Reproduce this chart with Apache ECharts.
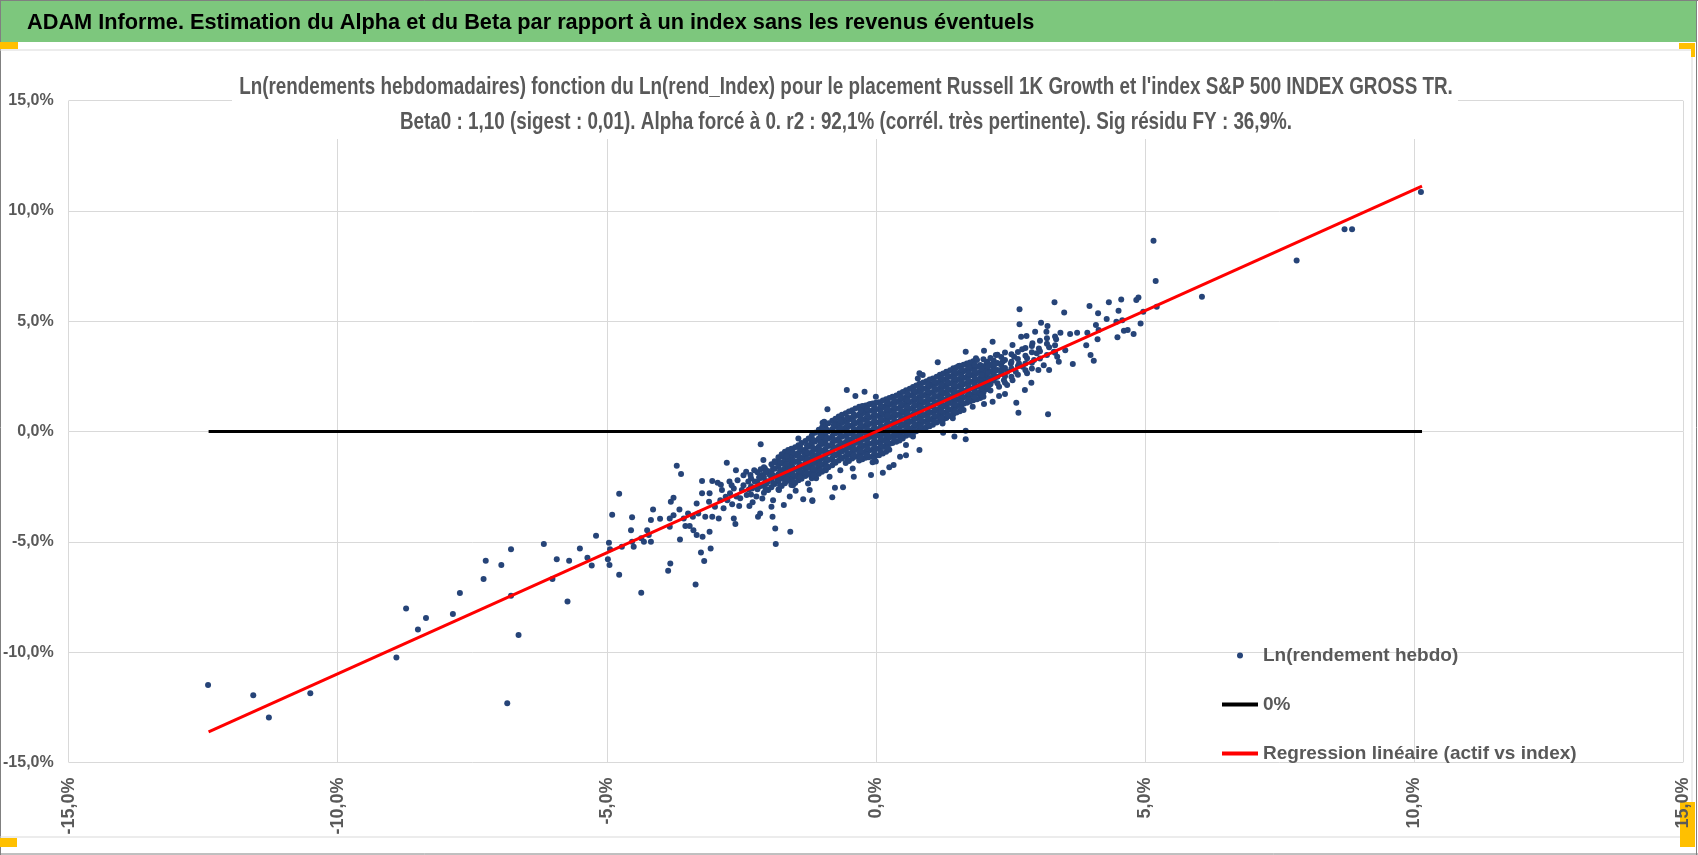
<!DOCTYPE html>
<html>
<head>
<meta charset="utf-8">
<script src="https://cdn.jsdelivr.net/npm/echarts@6/dist/echarts.min.js"></script>
<style>
html,body{margin:0;padding:0;background:#fff;}
#chart{width:1698px;height:855px;}
</style>
</head>
<body>
<div id="chart"></div>
<script>
// ---- Data (percent units) ----
var headerTitle = "ADAM Informe. Estimation du Alpha et du Beta par rapport à un index sans les revenus éventuels";
var chartTitleLines = [
  "Ln(rendements hebdomadaires) fonction du Ln(rend_Index) pour le placement Russell 1K Growth et l'index S&P 500 INDEX GROSS TR.",
  "Beta0 : 1,10 (sigest : 0,01). Alpha forcé à 0. r2 : 92,1% (corrél. très pertinente). Sig résidu FY : 36,9%."
];
var seriesNames = ["Ln(rendement hebdo)", "0%", "Regression linéaire (actif vs index)"];
var axisTicks = [-15, -10, -5, 0, 5, 10, 15];

// left tail points [index %, asset %]
var leftTail = [
  [-12.41,-11.49],[-11.57,-11.95],[-11.28,-12.96],[-10.51,-11.87],[-8.91,-10.24],
  [-8.73,-8.02],[-8.51,-8.97],[-8.36,-8.45],[-7.86,-8.27],[-7.73,-7.32],
  [-7.29,-6.69],[-7.25,-5.86],[-6.96,-6.05],[-6.78,-5.34],[-6.78,-7.44],
  [-6.64,-9.22],[-6.85,-12.32],[-6.17,-5.10],[-6.01,-6.69],[-5.93,-5.79],
  [-5.70,-5.86],[-5.73,-7.70],[-5.50,-5.30],[-5.36,-5.72],[-5.28,-6.07],[-5.20,-4.72]
];
// lower-middle points
var lowerMid = [
  [-4.96,-5.04],[-4.94,-5.34],[-4.98,-5.79],[-4.95,-6.05],[-4.77,-6.49],[-4.90,-3.77],
  [-4.77,-2.82],[-4.72,-5.22],[-4.55,-4.47],[-4.53,-3.89],[-4.53,-5.00],[-4.50,-5.22],
  [-4.36,-7.31],[-4.36,-4.84],[-4.31,-5.00],[-4.25,-4.47],[-4.18,-5.00],[-4.18,-4.01],
  [-4.14,-3.53],[-4.22,-4.69],[-4.01,-3.95],[-3.86,-6.31],[-3.82,-5.98],[-3.83,-4.32],
  [-3.83,-3.94],[-3.81,-3.18],[-3.76,-3.00],[-3.76,-3.79],[-3.70,-1.55],[-3.62,-1.93],
  [-3.65,-3.53],[-3.64,-4.89],[-3.57,-3.94],[-3.54,-4.28],[-3.49,-3.71],[-3.46,-4.28],
  [-3.40,-3.86],[-3.39,-4.47],[-3.35,-6.94],[-3.33,-3.26],[-3.33,-4.69],[-3.30,-3.71],
  [-3.25,-5.48],[-3.23,-2.24],[-3.23,-2.80],[-3.22,-4.77],[-3.19,-5.87],[-3.17,-3.86],
  [-3.10,-3.18],[-3.09,-4.54],[-3.09,-2.80],[-3.07,-5.30],[-3.04,-2.24],[-3.04,-3.86],
  [-2.99,-3.41],[-2.94,-2.32],[-2.92,-3.94],[-2.89,-3.11],[-2.86,-2.65],[-2.83,-3.48],
  [-2.77,-1.41],[-2.76,-3.11],[-2.72,-2.27],[-2.71,-2.80],[-2.67,-3.30],[-2.64,-3.94],
  [-2.61,-4.19],[-2.60,-1.75],[-2.64,-2.58],[-2.59,-2.95],[-2.54,-3.38],[-2.49,-2.65],
  [-2.41,-1.82],[-2.40,-2.88],[-2.37,-2.27],[-2.33,-1.97],[-2.30,-2.58],[-2.26,-1.75],
  [-2.25,-2.27],[-2.22,-2.95],[-2.19,-3.86],[-2.15,-3.71],[-2.14,-0.58],[-2.12,-1.97],
  [-2.11,-3.03],[-2.09,-1.29],[-2.06,-1.67],[-2.03,-2.35],[-2.00,-2.65],[-1.97,-1.97],
  [-1.94,-3.41],[-1.92,-3.86],[-1.91,-3.11],[-1.87,-4.39],[-1.86,-5.10],[-1.85,-1.41],
  [-1.83,-2.20],[-1.80,-2.65],[-1.75,-1.75],[-1.72,-1.14],[-1.71,-3.33],[-1.69,-2.20],
  [-1.66,-1.52],[-1.63,-0.84],[-1.60,-2.95],[-1.59,-4.54],[-1.57,-1.82],[-1.54,-2.43],
  [-1.49,-2.68],[-1.48,-1.07],[-1.44,-0.31],[-1.41,-0.69],[-1.40,-1.97],[-1.35,-3.07],
  [-1.35,-1.60],[-1.32,-0.99],[-1.29,-1.29],[-1.26,-2.35],[-1.23,-2.65],[-1.20,-0.51],
  [-1.18,-3.11],[-1.17,-1.75],[-1.14,-1.07],[-1.11,-2.12],[-1.07,-0.76],[-1.04,-1.44],
  [-0.99,0.40],[-1.01,-0.39],[-1.63,-1.75],[-1.44,-2.20],[-1.07,-1.60],[-1.18,-3.15],
  [-2.88,-2.41],[-2.79,-2.96],[-2.68,-2.44],[-2.57,-2.21],[-2.52,-3.02],[-2.46,-2.43],
  [-2.36,-2.63],[-2.29,-3.21],[-2.46,-1.98],[-2.35,-3.37]
];
// scattered points around the dense centre
var centreEdge = [
  [1.15,3.14],[1.54,2.97],[1.31,2.71],[0.81,2.64],[0.87,2.56],[-0.54,1.88],[-0.38,1.61],
  [-0.21,1.80],[0.00,1.58],[-0.90,1.01],[-0.96,0.44],[-0.73,0.37],[-0.62,0.55],[-0.46,0.60],
  [-0.24,0.97],[-0.10,1.25],[0.12,1.12],[0.38,1.35],[0.53,1.46],[0.69,1.88],[0.78,2.41],
  [0.99,2.18],[1.24,2.11],[1.46,1.73],[1.58,1.12],[1.43,0.60],[1.24,0.37],[1.25,-0.05],
  [1.46,-0.23],[0.81,-0.84],[0.69,-0.23],[0.56,-0.61],[0.45,-0.23],[0.56,-1.07],[0.45,-1.14],
  [0.33,-1.52],[0.25,-1.62],[0.13,-1.87],[-0.09,-1.97],[0.00,-2.92],[-0.41,-2.05],[-0.43,-1.67],
  [-0.61,-2.53],[-0.76,-2.55],[-0.81,-2.98],[-0.86,-2.05],[-0.93,-1.75],[-0.66,-1.75]
];
// upper-middle points
var upperMid = [
  [3.32,5.86],[2.67,5.54],[3.50,5.40],[3.97,5.69],[4.33,5.86],[4.56,5.99],[4.84,5.96],
  [4.88,6.08],[4.13,5.36],[4.51,5.48],[4.29,5.10],[4.47,4.98],[4.58,5.05],[4.97,5.43],
  [4.92,4.90],[4.61,4.57],[4.68,4.60],[4.79,4.42],[4.49,4.27],[4.09,4.83],[4.14,4.60],
  [4.12,4.18],[3.93,4.48],[3.91,3.91],[3.99,3.47],[4.05,3.21],[3.74,4.48],[3.61,4.42],
  [3.66,3.06],[3.52,3.69],[3.43,4.48],[3.35,4.18],[3.19,4.78],[3.17,4.52],[3.07,4.93],
  [2.96,4.52],[2.67,4.87],[2.70,4.30],[2.80,4.33],[3.20,0.79],[2.65,0.85],[2.61,1.31],
  [2.77,1.88],[2.89,2.21],[2.40,1.70],[2.29,1.61],[2.17,1.35],[2.01,1.25],[1.67,0.04],
  [1.67,-0.35],[1.67,3.62],[1.86,3.32],[2.01,3.66],[2.17,4.07],[2.23,3.47],[2.54,3.92],
  [2.72,3.73],[2.91,4.00],[3.03,3.77],[3.22,3.82],[3.31,3.62],[3.37,3.39],[3.40,3.16],
  [3.22,2.79],[3.12,3.01],[3.02,2.79],[2.94,3.24],[2.81,2.64],[2.73,2.94],[2.60,2.71],
  [2.44,2.71],[2.44,2.11],[2.38,2.33],[2.29,2.03],[2.17,2.33],[2.07,3.16],[1.98,2.64],
  [1.86,2.33],[1.80,2.94],[1.73,2.56],[1.89,1.73],[2.01,2.03],[1.80,1.12],[2.57,3.39],
  [2.81,3.32],[2.99,3.55],[2.66,3.09],[2.51,3.09],[2.54,2.33]
];
// right tail points
var rightTail = [
  [10.13,10.86],[8.71,9.17],[8.85,9.17],[7.82,7.76],[6.06,6.11],[5.16,8.65],[5.20,6.82],[5.22,5.66]
];
// dense core, read column by column: [index %, [asset % values]]
var coreColumnsA = [
  [-2.20,[-1.85,-2.30,-2.62]],
  [-2.08,[-1.62,-2.05,-2.43,-2.78]],
  [-1.94,[-1.48,-1.83,-2.14,-2.52]],
  [-1.81,[-1.17,-1.58,-1.92,-2.25,-2.63]],
  [-1.69,[-0.92,-1.31,-1.64,-1.97,-2.34]],
  [-1.57,[-0.78,-1.12,-1.46,-1.81,-2.09,-2.42]],
  [-1.44,[-0.62,-0.97,-1.32,-1.63,-1.94,-2.21]],
  [-1.31,[-0.43,-0.81,-1.09,-1.42,-1.73,-2.02]],
  [-1.19,[-0.18,-0.57,-0.93,-1.21,-1.52,-1.84,-2.12]],
  [-1.06,[0.08,-0.32,-0.68,-0.99,-1.33,-1.61,-1.91]],
  [-0.94,[0.27,-0.12,-0.43,-0.79,-1.08,-1.41,-1.72]],
  [-0.81,[0.49,0.11,-0.21,-0.52,-0.87,-1.19,-1.53]],
  [-0.69,[0.68,0.31,0.02,-0.33,-0.66,-0.98,-1.31]],
  [-0.56,[0.83,0.47,0.18,-0.17,-0.49,-0.82,-1.12,-1.43]],
  [-0.44,[0.97,0.62,0.29,-0.03,-0.34,-0.61,-0.93,-1.22]],
  [-0.31,[1.12,0.78,0.47,0.16,-0.12,-0.42,-0.73,-1.02,-1.31]],
  [-0.19,[1.18,0.88,0.58,0.27,-0.02,-0.31,-0.62,-0.91,-1.19]],
  [-0.06,[1.27,0.97,0.68,0.39,0.08,-0.21,-0.52,-0.81,-1.12,-1.39]],
  [0.06,[1.33,1.02,0.71,0.42,0.12,-0.17,-0.48,-0.77,-1.08]],
  [0.19,[1.47,1.18,0.87,0.59,0.28,-0.03,-0.32,-0.61,-0.92]],
  [0.31,[1.58,1.27,0.98,0.69,0.37,0.09,-0.21,-0.52]],
  [0.44,[1.72,1.41,1.08,0.79,0.48,0.18,-0.12,-0.41]],
  [0.56,[1.87,1.57,1.28,0.97,0.68,0.39,0.08,-0.19]],
  [0.69,[2.02,1.69,1.38,1.09,0.78,0.49,0.18,-0.08]],
  [0.81,[2.17,1.88,1.57,1.27,0.98,0.67,0.38,0.09]],
  [0.94,[2.28,1.98,1.69,1.38,1.08,0.79,0.48,0.19]],
  [1.06,[2.41,2.12,1.79,1.49,1.18,0.88,0.59,0.31]],
  [1.19,[2.57,2.27,1.98,1.67,1.38,1.07,0.78,0.49]],
  [1.31,[2.68,2.39,2.08,1.79,1.48,1.19,0.88,0.61]],
  [1.44,[2.87,2.58,2.27,1.98,1.69,1.38,1.09,0.79]],
  [1.56,[2.98,2.68,2.39,2.09,1.78,1.49,1.21,0.92]],
  [1.69,[3.08,2.79,2.48,2.19,1.88,1.59,1.31]],
  [1.81,[3.19,2.88,2.59,2.28,1.98,1.69,1.42]],
  [1.94,[3.02,2.71,2.42,2.12,1.81,1.52]],
  [2.06,[3.11,2.82,2.49,2.21,1.92]],
  [2.19,[3.22,2.91,2.61,2.31]],
  [2.33,[3.38,3.01,2.64]]
];
var coreColumnsB = [
  [-2.32,[-2.12,-2.48,-2.85]],
  [-2.14,[-1.71,-2.11,-2.47]],
  [-2.01,[-1.79,-2.26,-2.63]],
  [-1.88,[-1.35,-1.69,-2.04,-2.38]],
  [-1.75,[-1.03,-1.44,-1.79,-2.12,-2.47]],
  [-1.63,[-0.95,-1.27,-1.62,-1.95,-2.23]],
  [-1.50,[-0.71,-1.04,-1.38,-1.72,-2.03,-2.33]],
  [-1.38,[-0.52,-0.88,-1.21,-1.55,-1.86,-2.14]],
  [-1.25,[-0.31,-0.69,-1.02,-1.33,-1.64,-1.95]],
  [-1.13,[-0.06,-0.45,-0.81,-1.12,-1.43,-1.76,-2.01]],
  [-1.00,[0.18,-0.21,-0.57,-0.88,-1.21,-1.52,-1.82]],
  [-0.88,[0.38,0.01,-0.32,-0.66,-0.97,-1.29,-1.62]],
  [-0.75,[0.58,0.22,-0.08,-0.42,-0.76,-1.08,-1.41]],
  [-0.63,[0.76,0.39,0.09,-0.24,-0.57,-0.90,-1.22]],
  [-0.50,[0.91,0.55,0.24,-0.09,-0.41,-0.72,-1.03,-1.33]],
  [-0.38,[1.04,0.71,0.38,0.07,-0.23,-0.52,-0.84,-1.14]],
  [-0.25,[1.16,0.83,0.52,0.21,-0.07,-0.37,-0.67,-0.97,-1.26]],
  [-0.13,[1.23,0.93,0.63,0.33,0.03,-0.26,-0.57,-0.86,-1.16]],
  [0.00,[1.31,1.01,0.72,0.41,0.11,-0.19,-0.49,-0.79,-1.09,-1.36]],
  [0.13,[1.41,1.09,0.79,0.51,0.19,-0.11,-0.41,-0.70,-0.99]],
  [0.25,[1.52,1.22,0.92,0.63,0.33,0.03,-0.27,-0.57,-0.83]],
  [0.38,[1.64,1.34,1.03,0.74,0.42,0.13,-0.17,-0.46]],
  [0.50,[1.79,1.49,1.18,0.88,0.58,0.28,-0.02,-0.31]],
  [0.63,[1.94,1.62,1.33,1.02,0.72,0.43,0.13,-0.14]],
  [0.75,[2.09,1.78,1.47,1.18,0.88,0.58,0.28,0.01]],
  [0.88,[2.22,1.93,1.62,1.32,1.03,0.72,0.43,0.14]],
  [1.00,[2.36,2.05,1.74,1.44,1.13,0.84,0.53,0.24]],
  [1.13,[2.49,2.19,1.88,1.58,1.28,0.97,0.68,0.41]],
  [1.25,[2.63,2.33,2.02,1.73,1.43,1.13,0.83,0.55]],
  [1.38,[2.78,2.48,2.18,1.88,1.58,1.29,0.98,0.71]],
  [1.50,[2.92,2.63,2.33,2.03,1.73,1.43,1.15,0.86]],
  [1.63,[3.03,2.73,2.43,2.14,1.83,1.54,1.26,0.98]],
  [1.75,[3.13,2.83,2.54,2.23,1.93,1.64,1.36]],
  [1.88,[3.24,2.94,2.64,2.33,2.03,1.74,1.47]],
  [2.00,[3.28,2.96,2.66,2.37,2.06,1.77,1.58]],
  [2.13,[3.34,3.04,2.73,2.43,2.14,1.86]],
  [2.26,[3.48,3.11,2.79,2.48,2.19]],
  [2.40,[3.58,3.24,2.88,2.51,2.21]],
  [2.52,[3.51,3.17,2.86,2.48]],
  [2.64,[3.61,3.29,2.97,2.57]],
  [2.78,[3.79,3.44,3.08,2.78]],
  [2.90,[3.88,3.59,3.12,2.86]],
  [3.05,[4.12,3.64,3.31]],
  [3.18,[4.23,3.98,3.47]],
  [3.33,[4.31,3.91,3.57]]
];
var coreColumnsC = [
  [-2.17,[-2.08,-2.46]],
  [-2.05,[-1.84,-2.24,-2.60]],
  [-1.91,[-1.66,-1.98,-2.33]],
  [-1.78,[-1.38,-1.75,-2.08,-2.44]],
  [-1.66,[-1.12,-1.48,-1.81,-2.15]],
  [-1.54,[-0.95,-1.29,-1.63,-1.95,-2.26]],
  [-1.41,[-0.79,-1.15,-1.48,-1.78,-2.07]],
  [-1.28,[-0.62,-0.95,-1.26,-1.58,-1.88]],
  [-1.16,[-0.38,-0.75,-1.07,-1.37,-1.68,-1.98]],
  [-1.03,[-0.12,-0.50,-0.84,-1.16,-1.47,-1.76]],
  [-0.91,[0.08,-0.28,-0.61,-0.94,-1.25,-1.56]],
  [-0.78,[0.30,-0.05,-0.37,-0.70,-1.03,-1.36]],
  [-0.66,[0.49,0.16,-0.16,-0.50,-0.82,-1.15]],
  [-0.53,[0.65,0.33,0.00,-0.33,-0.66,-0.97,-1.28]],
  [-0.41,[0.79,0.45,0.13,-0.19,-0.48,-0.77,-1.08]],
  [-0.28,[0.95,0.62,0.31,0.02,-0.27,-0.57,-0.87,-1.17]],
  [-0.16,[1.03,0.73,0.42,0.12,-0.17,-0.46,-0.76,-1.05]],
  [-0.03,[1.12,0.82,0.53,0.23,-0.06,-0.37,-0.66,-0.96,-1.25]],
  [0.09,[1.18,0.87,0.57,0.27,-0.03,-0.32,-0.62,-0.93]],
  [0.22,[1.32,1.02,0.73,0.43,0.12,-0.17,-0.47,-0.76]],
  [0.34,[1.43,1.12,0.83,0.53,0.23,-0.06,-0.37]],
  [0.47,[1.56,1.24,0.94,0.63,0.33,0.03,-0.26]],
  [0.59,[1.72,1.42,1.12,0.83,0.53,0.23,-0.06]],
  [0.72,[1.85,1.53,1.23,0.93,0.63,0.33,0.05]],
  [0.84,[2.02,1.72,1.42,1.12,0.83,0.52,0.23]],
  [0.97,[2.13,1.83,1.53,1.23,0.93,0.63,0.33]],
  [1.09,[2.26,1.96,1.64,1.33,1.03,0.73,0.45]],
  [1.22,[2.42,2.12,1.82,1.52,1.22,0.92,0.63]],
  [1.34,[2.53,2.23,1.93,1.63,1.33,1.03,0.74]],
  [1.47,[2.72,2.42,2.12,1.83,1.53,1.23,0.94]],
  [1.59,[2.83,2.53,2.23,1.93,1.63,1.35,1.06]],
  [1.72,[2.93,2.63,2.33,2.03,1.73,1.45]],
  [1.84,[3.03,2.73,2.43,2.13,1.83,1.55]],
  [1.97,[2.86,2.56,2.27,1.96,1.67]],
  [2.09,[2.96,2.65,2.35,2.06]],
  [2.22,[3.06,2.76,2.46]],
  [2.36,[3.18,2.82]]
];
// reference lines (endpoints)
var zeroLine = [[-12.40,0],[10.15,0]];
var regressionLine = [[-12.40,-13.62],[10.15,11.13]];

// ---- build scatter data ----
var scatterData = [].concat(leftTail, lowerMid, centreEdge, upperMid, rightTail);
coreColumnsA.concat(coreColumnsB, coreColumnsC).forEach(function (c) {
  c[1].forEach(function (y) { scatterData.push([c[0], y]); });
});

var FONT = "'Liberation Sans', Arial, sans-serif";
var GREY = '#595959';
function pct(v) { return v.toFixed(1).replace('.', ',') + '%'; }

var chart = echarts.init(document.getElementById('chart'), null, {renderer: 'canvas'});
chart.setOption({
  animation: false,
  backgroundColor: '#ffffff',
  textStyle: {fontFamily: FONT},
  legend: {
    orient: 'vertical',
    left: 1222,
    top: 645,
    padding: 0,
    itemWidth: 36,
    itemHeight: 6,
    itemGap: 28,
    textStyle: {fontFamily: FONT, fontSize: 19, color: GREY, fontWeight: 'bold', lineHeight: 21},
    data: [
      {name: seriesNames[0], icon: 'circle'},
      {name: seriesNames[1], icon: 'path://M0 0H36V4H0Z'},
      {name: seriesNames[2], icon: 'path://M0 0H36V4H0Z'}
    ]
  },
  grid: {left: 63, right: 15, top: 100.7, bottom: 92.6, containLabel: false},
  xAxis: {
    type: 'value', min: axisTicks[0], max: axisTicks[axisTicks.length - 1], interval: 5,
    axisLine: {show: false}, axisTick: {show: false},
    splitLine: {show: true, lineStyle: {color: '#d9d9d9', width: 1}},
    axisLabel: {
      rotate: 90, margin: 15, formatter: pct,
      fontFamily: FONT, fontSize: 18, fontWeight: 'bold', color: GREY
    }
  },
  yAxis: {
    type: 'value', min: axisTicks[0], max: axisTicks[axisTicks.length - 1], interval: 5,
    axisLine: {show: false}, axisTick: {show: false},
    splitLine: {show: true, lineStyle: {color: '#d9d9d9', width: 1}},
    axisLabel: {
      margin: 15, formatter: pct,
      fontFamily: FONT, fontSize: 16, fontWeight: 'bold', color: GREY
    }
  },
  graphic: [
    {type: 'rect', z: -10, shape: {x: 0, y: 0, width: 1696, height: 42}, style: {fill: '#7dc77d'}},
    {type: 'line', z: -5, shape: {x1: 0, y1: 0.5, x2: 1698, y2: 0.5}, style: {stroke: '#808080', lineWidth: 1}},
    {type: 'line', z: -5, shape: {x1: 0.5, y1: 0, x2: 0.5, y2: 855}, style: {stroke: '#808080', lineWidth: 1}},
    {type: 'line', z: -5, shape: {x1: 0, y1: 854, x2: 1698, y2: 854}, style: {stroke: '#808080', lineWidth: 1}},
    {type: 'line', z: -5, shape: {x1: 1696.5, y1: 0, x2: 1696.5, y2: 855}, style: {stroke: '#808080', lineWidth: 1}},
    {type: 'line', z: -5, shape: {x1: 0, y1: 50, x2: 1692, y2: 50}, style: {stroke: '#d9d9d9', lineWidth: 1}},
    {type: 'line', z: -5, shape: {x1: 0, y1: 837, x2: 1692, y2: 837}, style: {stroke: '#d9d9d9', lineWidth: 1}},
    {type: 'line', z: -5, shape: {x1: 1692, y1: 50, x2: 1692, y2: 837}, style: {stroke: '#d9d9d9', lineWidth: 1}},
    {type: 'rect', z: -1, shape: {x: 0, y: 42, width: 18, height: 7}, style: {fill: '#ffc000'}},
    {type: 'rect', z: -1, shape: {x: 1679, y: 43, width: 16, height: 6}, style: {fill: '#ffc000'}},
    {type: 'rect', z: -1, shape: {x: 1691, y: 43, width: 4, height: 14}, style: {fill: '#ffc000'}},
    {type: 'rect', z: -1, shape: {x: 0, y: 838, width: 17, height: 9}, style: {fill: '#ffc000'}},
    {type: 'rect', z: -1, shape: {x: 1680, y: 802, width: 15, height: 45}, style: {fill: '#ffc000'}},
    {type: 'text', z: 6, x: 27, y: 23, scaleX: 0.988,
      style: {text: headerTitle, font: 'bold 22px ' + FONT, fill: '#000000', textVerticalAlign: 'middle', verticalAlign: 'middle'}},
    // white box behind the chart title
    {type: 'rect', z: 1, shape: {x: 232, y: 58, width: 1226, height: 81}, style: {fill: '#ffffff'}},
    {type: 'text', z: 6, x: 846, y: 87, scaleX: 0.785,
      style: {text: chartTitleLines[0], font: 'bold 24px ' + FONT, fill: GREY,
        align: 'center', textAlign: 'center', verticalAlign: 'middle', textVerticalAlign: 'middle'}},
    {type: 'text', z: 6, x: 846, y: 122, scaleX: 0.785,
      style: {text: chartTitleLines[1], font: 'bold 24px ' + FONT, fill: GREY,
        align: 'center', textAlign: 'center', verticalAlign: 'middle', textVerticalAlign: 'middle'}}
  ],
  series: [
    {
      name: seriesNames[0], type: 'scatter', data: scatterData, symbol: 'circle', symbolSize: 6,
      itemStyle: {color: '#264478', opacity: 1}, silent: true, z: 2
    },
    {
      name: seriesNames[1], type: 'line', data: zeroLine, symbol: 'none', showSymbol: false,
      lineStyle: {color: '#000000', width: 3}, itemStyle: {color: '#000000'}, silent: true, z: 3
    },
    {
      name: seriesNames[2], type: 'line', data: regressionLine, symbol: 'none', showSymbol: false,
      lineStyle: {color: '#ff0000', width: 3}, itemStyle: {color: '#ff0000'}, silent: true, z: 4
    }
  ]
});
</script>
</body>
</html>
